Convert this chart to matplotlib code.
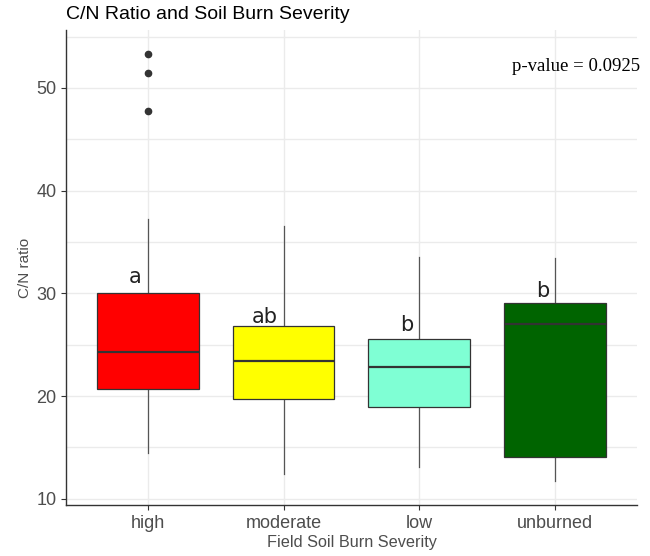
import matplotlib
matplotlib.use("Agg")
import matplotlib.pyplot as plt
from matplotlib.ticker import MultipleLocator

# ── data ──
categories = ["high", "moderate", "low", "unburned"]
whisker_low = [14.5, 12.4, 13.1, 11.7]
q1 = [20.7, 19.7, 18.9, 14.1]
median = [24.3, 23.4, 22.8, 27.0]
q3 = [30.0, 26.8, 25.6, 29.1]
whisker_high = [37.2, 36.6, 33.5, 33.4]
outliers = [[47.8, 51.5, 53.3], [], [], []]
letters = ["a", "ab", "b", "b"]
letter_y = [31.0, 27.1, 26.35, 29.65]
colors = ["#FF0000", "#FFFF00", "#7FFFD4", "#006400"]
p_text = "p-value = 0.0925"

GRAY = "#4D4D4D"

fig = plt.figure(figsize=(6.5, 5.56), dpi=100)
ax = fig.add_axes([0.1015, 0.0917, 0.8785, 0.8543])

stats = []
for i, c in enumerate(categories):
    stats.append({"label": c, "whislo": whisker_low[i], "q1": q1[i],
                  "med": median[i], "q3": q3[i], "whishi": whisker_high[i],
                  "fliers": outliers[i]})

pos = list(range(1, len(categories) + 1))
bp = ax.bxp(stats, positions=pos, widths=0.75, patch_artist=True,
            showcaps=False,
            boxprops=dict(edgecolor="#333333", linewidth=0.9),
            medianprops=dict(color="#333333", linewidth=1.6),
            whiskerprops=dict(color="#555555", linewidth=0.9),
            flierprops=dict(marker="o", markersize=4.5, markerfacecolor="#333333",
                            markeredgecolor="#333333"))
for patch, col in zip(bp["boxes"], colors):
    patch.set_facecolor(col)
    patch.set_zorder(3)
for ln in bp["medians"]:
    ln.set_zorder(4)

# significance letters
for i, lab in enumerate(letters):
    ax.text(pos[i] - 0.045, letter_y[i], lab, ha="right", va="baseline",
            fontsize=15, color="#222222", family="DejaVu Sans")

ax.text(4.6 + 0.02, 52.1, p_text, ha="right", va="center", fontsize=13.5,
        family="Liberation Serif", color="black")

ax.set_xlim(0.4, 4.6)
ax.set_ylim(9.39, 55.64)
ax.set_xticks(pos)
ax.set_xticklabels(categories)
ax.yaxis.set_major_locator(MultipleLocator(10))
ax.yaxis.set_minor_locator(MultipleLocator(5))
ax.set_yticks([10, 20, 30, 40, 50])

ax.grid(True, which="major", color="#EBEBEB", linewidth=1.0, zorder=0)
ax.grid(True, which="minor", axis="y", color="#EBEBEB", linewidth=1.0, zorder=0)
ax.set_axisbelow(True)
ax.tick_params(axis="y", which="minor", length=0)
ax.tick_params(axis="both", which="major", length=3.5, width=0.8, color="#333333",
               labelcolor=GRAY, labelsize=13)
for lab in ax.get_xticklabels() + ax.get_yticklabels():
    lab.set_family("Liberation Sans")

for s in ["top", "right"]:
    ax.spines[s].set_visible(False)
for s in ["left", "bottom"]:
    ax.spines[s].set_color("#333333")
    ax.spines[s].set_linewidth(1.0)

ax.set_ylabel("C/N ratio", fontsize=11, color=GRAY, family="Liberation Sans",
              labelpad=3)
ax.set_xlabel("Field Soil Burn Severity", fontsize=11.7, color=GRAY,
              family="Liberation Sans", labelpad=2)
ax.set_title("C/N Ratio and Soil Burn Severity", loc="left", fontsize=14,
             family="Liberation Sans", color="black", pad=8)

fig.savefig("out.png", dpi=100)
